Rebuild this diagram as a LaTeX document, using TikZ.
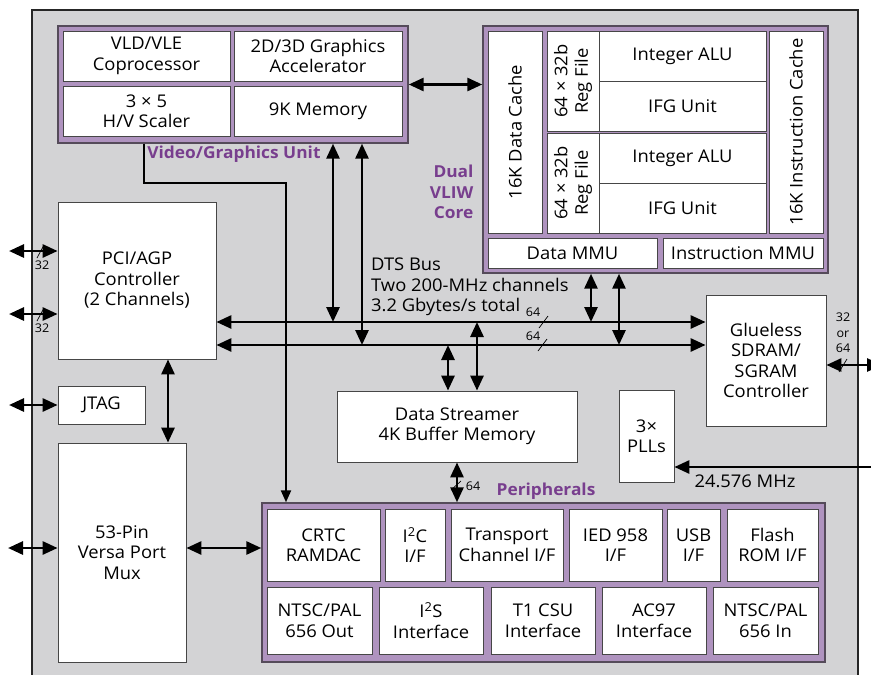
\documentclass[tikz,border=0pt]{standalone}
\usepackage{fontspec}
\setmainfont{Open Sans}[FakeStretch=1.05]
\usetikzlibrary{arrows.meta}
\definecolor{chipgray}{RGB}{211,211,213}
\definecolor{unitfill}{RGB}{175,147,191}
\definecolor{unitline}{RGB}{85,75,90}
\definecolor{labelpurple}{RGB}{120,62,142}
\definecolor{edgegray}{RGB}{70,70,70}
\tikzset{
  cell/.style={draw=edgegray, fill=white, line width=0.8pt, align=center, inner sep=0pt,
    font=\fontsize{17.5}{20.5}\selectfont},
  unit/.style={draw=unitline, fill=unitfill, line width=1.4pt, inner sep=0pt},
  unitlabel/.style={text=labelpurple, align=right, font=\bfseries\fontsize{16.5}{20.5}\selectfont},
  plain/.style={align=left, inner sep=0pt, font=\fontsize{17.5}{20.5}\selectfont},
  small/.style={inner sep=0pt, align=center, font=\fontsize{12}{15.5}\selectfont},
  dbl/.style={{Triangle[length=15pt,width=13pt]}-{Triangle[length=15pt,width=13pt]}, line width=2.8pt},
  sgl/.style={-{Triangle[length=15pt,width=13pt]}, line width=2.8pt},
  tick/.style={line width=0.7pt}
}
\begin{document}
\begin{tikzpicture}[x=1pt, y=-1pt]
  \useasboundingbox (0,0) rectangle (871,675);
  % chip outline
  \fill[chipgray] (32,10) rectangle (858,675);
  \draw[line width=2pt, draw=black!85] (32,675) -- (32,10) -- (858,10) -- (858,675);

  % Video/Graphics Unit
  \node[unit, minimum width=350, minimum height=117] (vgu) at (233,84.5) {};
  \node[cell, minimum width=167, minimum height=50] (vld) at (146.5,56) {VLD/VLE\\Coprocessor};
  \node[cell, minimum width=168, minimum height=50] (gfx) at (318,56) {2D/3D Graphics\\Accelerator};
  \node[cell, minimum width=167, minimum height=50] (scaler) at (146.5,111) {3 × 5\\H/V Scaler};
  \node[cell, minimum width=168, minimum height=50] (mem) at (318,111) {9K Memory};
  \node[unitlabel] (vgulabel) at (234,154) {Video/Graphics Unit};

  % Dual VLIW Core
  \node[unit, minimum width=345, minimum height=247] (core) at (655.5,149.5) {};
  \node[cell, rotate=90, minimum width=202, minimum height=54] (dcache) at (515,132) {16K Data Cache};
  \node[cell, rotate=90, minimum width=100, minimum height=52] (rfa) at (573,81) {64 × 32b\\Reg File};
  \node[cell, minimum width=167, minimum height=50] (alua) at (682.5,56) {Integer ALU};
  \node[cell, minimum width=167, minimum height=50] (ifga) at (682.5,106) {IFG Unit};
  \node[cell, rotate=90, minimum width=100, minimum height=52] (rfb) at (573,183) {64 × 32b\\Reg File};
  \node[cell, minimum width=167, minimum height=50] (alub) at (682.5,158) {Integer ALU};
  \node[cell, minimum width=167, minimum height=50] (ifgb) at (682.5,208) {IFG Unit};
  \node[cell, rotate=90, minimum width=202, minimum height=54] (icache) at (796,132) {16K Instruction Cache};
  \node[cell, minimum width=169, minimum height=30] (dmmu) at (572.5,253) {Data MMU};
  \node[cell, minimum width=160, minimum height=30] (immu) at (743,253) {Instruction MMU};
  \node[unitlabel, anchor=east] (corelabel) at (477,192) {Dual\\VLIW\\Core};

  % controllers and buffers
  \node[cell, minimum width=158, minimum height=157] (pci) at (137,280.5) {PCI/AGP\\Controller\\(2 Channels)};
  \node[cell, minimum width=87, minimum height=38] (jtag) at (101.5,405) {JTAG};
  \node[cell, minimum width=128, minimum height=219] (versa) at (122,552.5) {53-Pin\\Versa Port\\Mux};
  \node[cell, minimum width=240, minimum height=71] (stream) at (457,426.5) {Data Streamer\\4K Buffer Memory};
  \node[cell, minimum width=55, minimum height=92] (plls) at (646.5,436) {3×\\PLLs};
  \node[cell, minimum width=120, minimum height=131] (sdram) at (766,360.5) {Glueless\\SDRAM/\\SGRAM\\Controller};
  \node[plain, anchor=north west] (dts) at (371,258) {DTS Bus\\Two 200-MHz channels\\3.2 Gbytes/s total};

  % Peripherals
  \node[unit, minimum width=563, minimum height=159] (periph) at (543.5,582.5) {};
  \node[cell, minimum width=113, minimum height=72] (crtc) at (323.5,545) {CRTC\\RAMDAC};
  \node[cell, minimum width=60, minimum height=72] (iic) at (415,545) {I\textsuperscript{2}C\\I/F};
  \node[cell, minimum width=112, minimum height=72] (transport) at (507,545) {Transport\\Channel I/F};
  \node[cell, minimum width=93, minimum height=72] (ied) at (615.5,545) {IED 958\\I/F};
  \node[cell, minimum width=53, minimum height=72] (usb) at (693.5,545) {USB\\I/F};
  \node[cell, minimum width=91, minimum height=72] (flash) at (772.5,545) {Flash\\ROM I/F};
  \node[cell, minimum width=105, minimum height=67] (ntscout) at (319.5,620.5) {NTSC/PAL\\656 Out};
  \node[cell, minimum width=104, minimum height=67] (iis) at (431,620.5) {I\textsuperscript{2}S\\Interface};
  \node[cell, minimum width=104, minimum height=67] (tone) at (543,620.5) {T1 CSU\\Interface};
  \node[cell, minimum width=104, minimum height=67] (ac97) at (654,620.5) {AC97\\Interface};
  \node[cell, minimum width=105, minimum height=67] (ntscin) at (765.5,620.5) {NTSC/PAL\\656 In};
  \node[unitlabel] (perlabel) at (546,491) {Peripherals};

  % coordinates for taps
  \coordinate (busA) at (0,322);
  \coordinate (busB) at (0,345);
  \coordinate (vgA) at (333,0);
  \coordinate (vgB) at (362,0);
  \coordinate (mmA) at (591,0);
  \coordinate (mmB) at (619,0);
  \coordinate (dsA) at (448,0);
  \coordinate (dsB) at (477,0);
  \coordinate (vout) at (144,0);
  \coordinate (vbend) at (286,183);
  \coordinate (pv) at (168,0);
  \coordinate (pinA) at (9,251);
  \coordinate (pinB) at (9,314);
  \coordinate (jtin) at (9,405);
  \coordinate (vpin) at (8,548);
  \coordinate (sdout) at (882,365);
  \coordinate (clk) at (885,467);

  % DTS bus
  \draw[dbl] (pci.east |- busA) -- (sdram.west |- busA);
  \draw[dbl] (pci.east |- busB) -- (sdram.west |- busB);
  \draw[tick] (539,328) -- (548,316);
  \draw[tick] (538,351) -- (547,339);
  \node[small] (wa) at (533,312) {64};
  \node[small] (wb) at (533,336) {64};

  % bus taps
  \draw[dbl] (vgu.south -| vgA) -- (busA -| vgA);
  \draw[dbl] (vgu.south -| vgB) -- (busB -| vgB);
  \draw[dbl] (core.south -| mmA) -- (busA -| mmA);
  \draw[dbl] (core.south -| mmB) -- (busB -| mmB);
  \draw[dbl] (busB -| dsA) -- (stream.north -| dsA);
  \draw[dbl] (busA -| dsB) -- (stream.north -| dsB);

  % unit links
  \draw[dbl] (vgu.east) -- (vgu.east -| core.west);
  \draw[line width=2.2pt, -{Triangle[length=12pt,width=10pt]}] (vgu.south -| vout) |- (vbend) -- (vbend |- periph.north);
  \draw[dbl] (stream.south) -- (stream.south |- periph.north);
  \draw[tick] (451,490) -- (461,481);
  \node[small] (wc) at (473,486) {64};
  \draw[dbl] (pci.south -| pv) -- (versa.north -| pv);
  \draw[dbl] (versa.east |- vpin) -- (periph.west |- vpin);

  % pins
  \draw[dbl] (pinA) -- (pinA -| pci.west);
  \draw[tick] (37,258) -- (44,245);
  \node[small] (wd) at (42,265) {32};
  \draw[dbl] (pinB) -- (pinB -| pci.west);
  \draw[tick] (37,321) -- (44,308);
  \node[small] (we) at (42,328) {32};
  \draw[dbl] (jtin) -- (jtag.west);
  \draw[dbl] (vpin) -- (vpin -| versa.west);
  \draw[dbl] (sdram.east |- sdout) -- (sdout);
  \draw[tick] (839,372) -- (847,359);
  \node[small] (wf) at (843,333) {32\\or\\64};
  \draw[sgl] (clk) -- (clk -| plls.east);
  \node[plain] (freq) at (745,481) {24.576 MHz};
\end{tikzpicture}
\end{document}
